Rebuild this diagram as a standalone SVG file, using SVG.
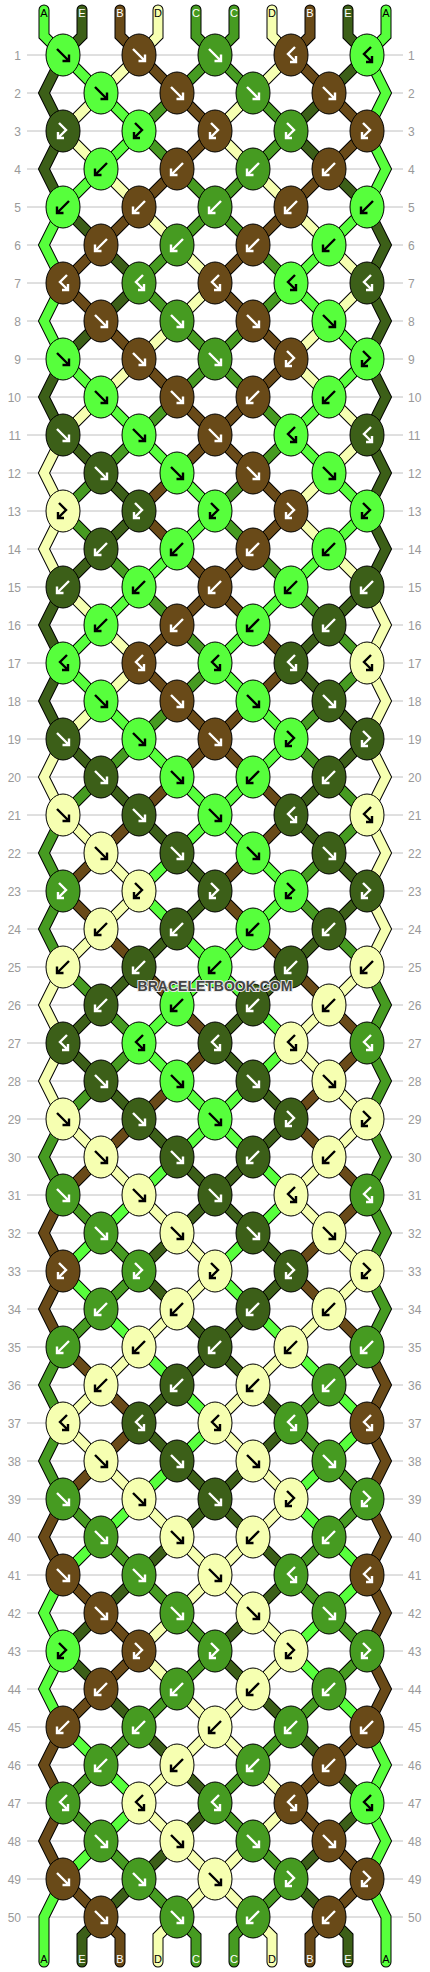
<svg xmlns="http://www.w3.org/2000/svg" xmlns:xlink="http://www.w3.org/1999/xlink" width="430" height="1972" viewBox="0 0 430 1972">
<style>
.L{fill:#57ff3c;color:#000}
.K{fill:#3c5f18;color:#fff}
.B{fill:#694a18;color:#fff}
.Y{fill:#f6ffb1;color:#000}
.M{fill:#469b21;color:#fff}
.o{fill:none;stroke:#000;stroke-width:11;stroke-linejoin:miter;stroke-linecap:round}
.s{fill:none;stroke-width:9;stroke-linejoin:miter;stroke-linecap:round}
.sL{stroke:#57ff3c}.sK{stroke:#3c5f18}.sB{stroke:#694a18}.sY{stroke:#f6ffb1}.sM{stroke:#469b21}
.num{font-family:"Liberation Sans",Arial,sans-serif;font-size:12px;fill:#999}
.lab{font-family:"Liberation Sans",Arial,sans-serif;font-size:11px;text-anchor:middle}
</style>
<defs>
<ellipse id="e" rx="17" ry="21" stroke="#000" stroke-width="1"/>
<g id="f"><use href="#e"/><path d="M-6-6L6 6M-0.5 6H6V-0.5" fill="none" stroke="currentColor" stroke-width="2.4"/></g>
<g id="b"><use href="#e"/><path d="M6-6L-6 6M0.5 6H-6V-0.5" fill="none" stroke="currentColor" stroke-width="2.4"/></g>
<g id="fb"><use href="#e"/><path d="M-4-8L3-1L-5 7M1 7H-5V1" fill="none" stroke="currentColor" stroke-width="2.4"/></g>
<g id="bf"><use href="#e"/><path d="M4-8L-3-1L5 7M-1 7H5V1" fill="none" stroke="currentColor" stroke-width="2.4"/></g>
<polyline id="s0" points="44,10 44,36 63,55 101,93 139,131 101,169 63,207 44,245 63,283 44,321 63,359 101,397 139,435 177,473 215,511 177,549 139,587 101,625 63,663 101,701 139,739 177,777 215,815 253,853 291,891 253,929 215,967 177,1005 139,1043 177,1081 215,1119 253,1157 291,1195 253,1233 215,1271 253,1309 291,1347 329,1385 367,1423 329,1461 291,1499 329,1537 367,1575 329,1613 291,1651 329,1689 367,1727 386,1765 367,1803 386,1841 367,1879 386,1917 386,1962"/>
<polyline id="s1" points="82,10 82,36 63,55 44,93 63,131 44,169 63,207 101,245 139,283 101,321 63,359 44,397 63,435 101,473 139,511 101,549 63,587 44,625 63,663 44,701 63,739 101,777 139,815 177,853 215,891 177,929 139,967 101,1005 63,1043 101,1081 139,1119 177,1157 215,1195 253,1233 291,1271 253,1309 215,1347 177,1385 139,1423 177,1461 215,1499 253,1537 291,1575 253,1613 215,1651 253,1689 291,1727 329,1765 367,1803 329,1841 291,1879 329,1917 348,1936 348,1962"/>
<polyline id="s2" points="120,10 120,36 139,55 177,93 215,131 177,169 139,207 101,245 63,283 101,321 139,359 177,397 215,435 253,473 291,511 253,549 215,587 177,625 139,663 177,701 215,739 253,777 291,815 253,853 215,891 253,929 291,967 329,1005 367,1043 329,1081 291,1119 329,1157 367,1195 329,1233 291,1271 329,1309 367,1347 386,1385 367,1423 386,1461 367,1499 386,1537 367,1575 386,1613 367,1651 386,1689 367,1727 329,1765 291,1803 329,1841 367,1879 329,1917 310,1936 310,1962"/>
<polyline id="s3" points="158,10 158,36 139,55 101,93 63,131 101,169 139,207 177,245 215,283 177,321 139,359 101,397 63,435 44,473 63,511 44,549 63,587 101,625 139,663 101,701 63,739 44,777 63,815 101,853 139,891 101,929 63,967 44,1005 63,1043 44,1081 63,1119 101,1157 139,1195 177,1233 215,1271 177,1309 139,1347 101,1385 63,1423 101,1461 139,1499 177,1537 215,1575 253,1613 291,1651 253,1689 215,1727 177,1765 139,1803 177,1841 215,1879 253,1917 272,1936 272,1962"/>
<polyline id="s4" points="196,10 196,36 215,55 253,93 291,131 253,169 215,207 177,245 139,283 177,321 215,359 253,397 291,435 253,473 215,511 253,549 291,587 329,625 367,663 329,701 291,739 329,777 367,815 329,853 291,891 329,929 367,967 386,1005 367,1043 386,1081 367,1119 386,1157 367,1195 386,1233 367,1271 386,1309 367,1347 329,1385 291,1423 329,1461 367,1499 329,1537 291,1575 329,1613 367,1651 329,1689 291,1727 253,1765 215,1803 253,1841 291,1879 253,1917 234,1936 234,1962"/>
<polyline id="s5" points="234,10 234,36 215,55 177,93 139,131 177,169 215,207 253,245 291,283 253,321 215,359 177,397 139,435 101,473 63,511 101,549 139,587 177,625 215,663 177,701 139,739 101,777 63,815 44,853 63,891 44,929 63,967 101,1005 139,1043 101,1081 63,1119 44,1157 63,1195 101,1233 139,1271 101,1309 63,1347 44,1385 63,1423 44,1461 63,1499 101,1537 139,1575 177,1613 215,1651 177,1689 139,1727 101,1765 63,1803 101,1841 139,1879 177,1917 196,1936 196,1962"/>
<polyline id="s6" points="272,10 272,36 291,55 253,93 215,131 253,169 291,207 329,245 367,283 329,321 291,359 329,397 367,435 329,473 291,511 329,549 367,587 386,625 367,663 386,701 367,739 386,777 367,815 386,853 367,891 386,929 367,967 329,1005 291,1043 329,1081 367,1119 329,1157 291,1195 329,1233 367,1271 329,1309 291,1347 253,1385 215,1423 253,1461 291,1499 253,1537 215,1575 177,1613 139,1651 177,1689 215,1727 253,1765 291,1803 253,1841 215,1879 177,1917 158,1936 158,1962"/>
<polyline id="s7" points="310,10 310,36 291,55 329,93 367,131 329,169 291,207 253,245 215,283 253,321 291,359 253,397 215,435 177,473 139,511 177,549 215,587 253,625 291,663 253,701 215,739 177,777 139,815 101,853 63,891 101,929 139,967 177,1005 215,1043 177,1081 139,1119 101,1157 63,1195 44,1233 63,1271 44,1309 63,1347 101,1385 139,1423 101,1461 63,1499 44,1537 63,1575 101,1613 139,1651 101,1689 63,1727 44,1765 63,1803 44,1841 63,1879 101,1917 120,1936 120,1962"/>
<polyline id="s8" points="348,10 348,36 367,55 329,93 291,131 329,169 367,207 386,245 367,283 386,321 367,359 386,397 367,435 386,473 367,511 386,549 367,587 329,625 291,663 329,701 367,739 329,777 291,815 329,853 367,891 329,929 291,967 253,1005 215,1043 253,1081 291,1119 253,1157 215,1195 177,1233 139,1271 177,1309 215,1347 253,1385 291,1423 253,1461 215,1499 177,1537 139,1575 101,1613 63,1651 101,1689 139,1727 177,1765 215,1803 177,1841 139,1879 101,1917 82,1936 82,1962"/>
<polyline id="s9" points="386,10 386,36 367,55 386,93 367,131 386,169 367,207 329,245 291,283 329,321 367,359 329,397 291,435 329,473 367,511 329,549 291,587 253,625 215,663 253,701 291,739 253,777 215,815 177,853 139,891 177,929 215,967 253,1005 291,1043 253,1081 215,1119 177,1157 139,1195 101,1233 63,1271 101,1309 139,1347 177,1385 215,1423 177,1461 139,1499 101,1537 63,1575 44,1613 63,1651 44,1689 63,1727 101,1765 139,1803 101,1841 63,1879 44,1917 44,1962"/>
</defs>
<rect width="430" height="1972" fill="#fff"/>
<g id="rows">
<path d="M27 55H403M27 93H403M27 131H403M27 169H403M27 207H403M27 245H403M27 283H403M27 321H403M27 359H403M27 397H403M27 435H403M27 473H403M27 511H403M27 549H403M27 587H403M27 625H403M27 663H403M27 701H403M27 739H403M27 777H403M27 815H403M27 853H403M27 891H403M27 929H403M27 967H403M27 1005H403M27 1043H403M27 1081H403M27 1119H403M27 1157H403M27 1195H403M27 1233H403M27 1271H403M27 1309H403M27 1347H403M27 1385H403M27 1423H403M27 1461H403M27 1499H403M27 1537H403M27 1575H403M27 1613H403M27 1651H403M27 1689H403M27 1727H403M27 1765H403M27 1803H403M27 1841H403M27 1879H403M27 1917H403" stroke="#c0c0c0" stroke-width="1" fill="none"/>
<g class="num" text-anchor="end">
<text x="21" y="59.5">1</text><text x="21" y="97.5">2</text><text x="21" y="135.5">3</text><text x="21" y="173.5">4</text><text x="21" y="211.5">5</text><text x="21" y="249.5">6</text><text x="21" y="287.5">7</text><text x="21" y="325.5">8</text><text x="21" y="363.5">9</text><text x="21" y="401.5">10</text>
<text x="21" y="439.5">11</text><text x="21" y="477.5">12</text><text x="21" y="515.5">13</text><text x="21" y="553.5">14</text><text x="21" y="591.5">15</text><text x="21" y="629.5">16</text><text x="21" y="667.5">17</text><text x="21" y="705.5">18</text><text x="21" y="743.5">19</text><text x="21" y="781.5">20</text>
<text x="21" y="819.5">21</text><text x="21" y="857.5">22</text><text x="21" y="895.5">23</text><text x="21" y="933.5">24</text><text x="21" y="971.5">25</text><text x="21" y="1009.5">26</text><text x="21" y="1047.5">27</text><text x="21" y="1085.5">28</text><text x="21" y="1123.5">29</text><text x="21" y="1161.5">30</text>
<text x="21" y="1199.5">31</text><text x="21" y="1237.5">32</text><text x="21" y="1275.5">33</text><text x="21" y="1313.5">34</text><text x="21" y="1351.5">35</text><text x="21" y="1389.5">36</text><text x="21" y="1427.5">37</text><text x="21" y="1465.5">38</text><text x="21" y="1503.5">39</text><text x="21" y="1541.5">40</text>
<text x="21" y="1579.5">41</text><text x="21" y="1617.5">42</text><text x="21" y="1655.5">43</text><text x="21" y="1693.5">44</text><text x="21" y="1731.5">45</text><text x="21" y="1769.5">46</text><text x="21" y="1807.5">47</text><text x="21" y="1845.5">48</text><text x="21" y="1883.5">49</text><text x="21" y="1921.5">50</text>
</g>
<g class="num" text-anchor="start">
<text x="408" y="59.5">1</text><text x="408" y="97.5">2</text><text x="408" y="135.5">3</text><text x="408" y="173.5">4</text><text x="408" y="211.5">5</text><text x="408" y="249.5">6</text><text x="408" y="287.5">7</text><text x="408" y="325.5">8</text><text x="408" y="363.5">9</text><text x="408" y="401.5">10</text>
<text x="408" y="439.5">11</text><text x="408" y="477.5">12</text><text x="408" y="515.5">13</text><text x="408" y="553.5">14</text><text x="408" y="591.5">15</text><text x="408" y="629.5">16</text><text x="408" y="667.5">17</text><text x="408" y="705.5">18</text><text x="408" y="743.5">19</text><text x="408" y="781.5">20</text>
<text x="408" y="819.5">21</text><text x="408" y="857.5">22</text><text x="408" y="895.5">23</text><text x="408" y="933.5">24</text><text x="408" y="971.5">25</text><text x="408" y="1009.5">26</text><text x="408" y="1047.5">27</text><text x="408" y="1085.5">28</text><text x="408" y="1123.5">29</text><text x="408" y="1161.5">30</text>
<text x="408" y="1199.5">31</text><text x="408" y="1237.5">32</text><text x="408" y="1275.5">33</text><text x="408" y="1313.5">34</text><text x="408" y="1351.5">35</text><text x="408" y="1389.5">36</text><text x="408" y="1427.5">37</text><text x="408" y="1465.5">38</text><text x="408" y="1503.5">39</text><text x="408" y="1541.5">40</text>
<text x="408" y="1579.5">41</text><text x="408" y="1617.5">42</text><text x="408" y="1655.5">43</text><text x="408" y="1693.5">44</text><text x="408" y="1731.5">45</text><text x="408" y="1769.5">46</text><text x="408" y="1807.5">47</text><text x="408" y="1845.5">48</text><text x="408" y="1883.5">49</text><text x="408" y="1921.5">50</text>
</g>
</g>
<g id="connectors">
<use href="#s0" class="o"/><use href="#s1" class="o"/><use href="#s2" class="o"/><use href="#s3" class="o"/><use href="#s4" class="o"/><use href="#s5" class="o"/><use href="#s6" class="o"/><use href="#s7" class="o"/><use href="#s8" class="o"/><use href="#s9" class="o"/>
<use href="#s0" class="s sL"/><use href="#s1" class="s sK"/><use href="#s2" class="s sB"/><use href="#s3" class="s sY"/><use href="#s4" class="s sM"/><use href="#s5" class="s sM"/><use href="#s6" class="s sY"/><use href="#s7" class="s sB"/><use href="#s8" class="s sK"/><use href="#s9" class="s sL"/>
</g>
<g id="labels">
<text class="lab" x="44" y="17" fill="#000">A</text><text class="lab" x="82" y="17" fill="#fff">E</text><text class="lab" x="120" y="17" fill="#fff">B</text><text class="lab" x="158" y="17" fill="#000">D</text><text class="lab" x="196" y="17" fill="#fff">C</text><text class="lab" x="234" y="17" fill="#fff">C</text><text class="lab" x="272" y="17" fill="#000">D</text><text class="lab" x="310" y="17" fill="#fff">B</text><text class="lab" x="348" y="17" fill="#fff">E</text><text class="lab" x="386" y="17" fill="#000">A</text>
<text class="lab" x="44" y="1963" fill="#000">A</text><text class="lab" x="82" y="1963" fill="#fff">E</text><text class="lab" x="120" y="1963" fill="#fff">B</text><text class="lab" x="158" y="1963" fill="#000">D</text><text class="lab" x="196" y="1963" fill="#fff">C</text><text class="lab" x="234" y="1963" fill="#fff">C</text><text class="lab" x="272" y="1963" fill="#000">D</text><text class="lab" x="310" y="1963" fill="#fff">B</text><text class="lab" x="348" y="1963" fill="#fff">E</text><text class="lab" x="386" y="1963" fill="#000">A</text>
</g>
<g id="knots">
<g id="k1-1" class="L"><use href="#f" x="63" y="55"/></g><g id="k1-2" class="B"><use href="#f" x="139" y="55"/></g><g id="k1-3" class="M"><use href="#f" x="215" y="55"/></g><g id="k1-4" class="B"><use href="#bf" x="291" y="55"/></g><g id="k1-5" class="L"><use href="#bf" x="367" y="55"/></g>
<g id="k2-1" class="L"><use href="#f" x="101" y="93"/></g><g id="k2-2" class="B"><use href="#f" x="177" y="93"/></g><g id="k2-3" class="M"><use href="#f" x="253" y="93"/></g><g id="k2-4" class="B"><use href="#f" x="329" y="93"/></g>
<g id="k3-1" class="K"><use href="#fb" x="63" y="131"/></g><g id="k3-2" class="L"><use href="#fb" x="139" y="131"/></g><g id="k3-3" class="B"><use href="#fb" x="215" y="131"/></g><g id="k3-4" class="M"><use href="#fb" x="291" y="131"/></g><g id="k3-5" class="B"><use href="#fb" x="367" y="131"/></g>
<g id="k4-1" class="L"><use href="#b" x="101" y="169"/></g><g id="k4-2" class="B"><use href="#b" x="177" y="169"/></g><g id="k4-3" class="M"><use href="#b" x="253" y="169"/></g><g id="k4-4" class="B"><use href="#b" x="329" y="169"/></g>
<g id="k5-1" class="L"><use href="#b" x="63" y="207"/></g><g id="k5-2" class="B"><use href="#b" x="139" y="207"/></g><g id="k5-3" class="M"><use href="#b" x="215" y="207"/></g><g id="k5-4" class="B"><use href="#b" x="291" y="207"/></g><g id="k5-5" class="L"><use href="#b" x="367" y="207"/></g>
<g id="k6-1" class="B"><use href="#b" x="101" y="245"/></g><g id="k6-2" class="M"><use href="#b" x="177" y="245"/></g><g id="k6-3" class="B"><use href="#b" x="253" y="245"/></g><g id="k6-4" class="L"><use href="#b" x="329" y="245"/></g>
<g id="k7-1" class="B"><use href="#bf" x="63" y="283"/></g><g id="k7-2" class="M"><use href="#bf" x="139" y="283"/></g><g id="k7-3" class="B"><use href="#bf" x="215" y="283"/></g><g id="k7-4" class="L"><use href="#bf" x="291" y="283"/></g><g id="k7-5" class="K"><use href="#bf" x="367" y="283"/></g>
<g id="k8-1" class="B"><use href="#f" x="101" y="321"/></g><g id="k8-2" class="M"><use href="#f" x="177" y="321"/></g><g id="k8-3" class="B"><use href="#f" x="253" y="321"/></g><g id="k8-4" class="L"><use href="#f" x="329" y="321"/></g>
<g id="k9-1" class="L"><use href="#f" x="63" y="359"/></g><g id="k9-2" class="B"><use href="#f" x="139" y="359"/></g><g id="k9-3" class="M"><use href="#f" x="215" y="359"/></g><g id="k9-4" class="B"><use href="#fb" x="291" y="359"/></g><g id="k9-5" class="L"><use href="#fb" x="367" y="359"/></g>
<g id="k10-1" class="L"><use href="#f" x="101" y="397"/></g><g id="k10-2" class="B"><use href="#f" x="177" y="397"/></g><g id="k10-3" class="B"><use href="#b" x="253" y="397"/></g><g id="k10-4" class="L"><use href="#b" x="329" y="397"/></g>
<g id="k11-1" class="K"><use href="#f" x="63" y="435"/></g><g id="k11-2" class="L"><use href="#f" x="139" y="435"/></g><g id="k11-3" class="B"><use href="#f" x="215" y="435"/></g><g id="k11-4" class="L"><use href="#bf" x="291" y="435"/></g><g id="k11-5" class="K"><use href="#bf" x="367" y="435"/></g>
<g id="k12-1" class="K"><use href="#f" x="101" y="473"/></g><g id="k12-2" class="L"><use href="#f" x="177" y="473"/></g><g id="k12-3" class="B"><use href="#f" x="253" y="473"/></g><g id="k12-4" class="L"><use href="#f" x="329" y="473"/></g>
<g id="k13-1" class="Y"><use href="#fb" x="63" y="511"/></g><g id="k13-2" class="K"><use href="#fb" x="139" y="511"/></g><g id="k13-3" class="L"><use href="#fb" x="215" y="511"/></g><g id="k13-4" class="B"><use href="#fb" x="291" y="511"/></g><g id="k13-5" class="L"><use href="#fb" x="367" y="511"/></g>
<g id="k14-1" class="K"><use href="#b" x="101" y="549"/></g><g id="k14-2" class="L"><use href="#b" x="177" y="549"/></g><g id="k14-3" class="B"><use href="#b" x="253" y="549"/></g><g id="k14-4" class="L"><use href="#b" x="329" y="549"/></g>
<g id="k15-1" class="K"><use href="#b" x="63" y="587"/></g><g id="k15-2" class="L"><use href="#b" x="139" y="587"/></g><g id="k15-3" class="B"><use href="#b" x="215" y="587"/></g><g id="k15-4" class="L"><use href="#b" x="291" y="587"/></g><g id="k15-5" class="K"><use href="#b" x="367" y="587"/></g>
<g id="k16-1" class="L"><use href="#b" x="101" y="625"/></g><g id="k16-2" class="B"><use href="#b" x="177" y="625"/></g><g id="k16-3" class="L"><use href="#b" x="253" y="625"/></g><g id="k16-4" class="K"><use href="#b" x="329" y="625"/></g>
<g id="k17-1" class="L"><use href="#bf" x="63" y="663"/></g><g id="k17-2" class="B"><use href="#bf" x="139" y="663"/></g><g id="k17-3" class="L"><use href="#bf" x="215" y="663"/></g><g id="k17-4" class="K"><use href="#bf" x="291" y="663"/></g><g id="k17-5" class="Y"><use href="#bf" x="367" y="663"/></g>
<g id="k18-1" class="L"><use href="#f" x="101" y="701"/></g><g id="k18-2" class="B"><use href="#f" x="177" y="701"/></g><g id="k18-3" class="L"><use href="#f" x="253" y="701"/></g><g id="k18-4" class="K"><use href="#f" x="329" y="701"/></g>
<g id="k19-1" class="K"><use href="#f" x="63" y="739"/></g><g id="k19-2" class="L"><use href="#f" x="139" y="739"/></g><g id="k19-3" class="B"><use href="#f" x="215" y="739"/></g><g id="k19-4" class="L"><use href="#fb" x="291" y="739"/></g><g id="k19-5" class="K"><use href="#fb" x="367" y="739"/></g>
<g id="k20-1" class="K"><use href="#f" x="101" y="777"/></g><g id="k20-2" class="L"><use href="#f" x="177" y="777"/></g><g id="k20-3" class="L"><use href="#b" x="253" y="777"/></g><g id="k20-4" class="K"><use href="#b" x="329" y="777"/></g>
<g id="k21-1" class="Y"><use href="#f" x="63" y="815"/></g><g id="k21-2" class="K"><use href="#f" x="139" y="815"/></g><g id="k21-3" class="L"><use href="#f" x="215" y="815"/></g><g id="k21-4" class="K"><use href="#bf" x="291" y="815"/></g><g id="k21-5" class="Y"><use href="#bf" x="367" y="815"/></g>
<g id="k22-1" class="Y"><use href="#f" x="101" y="853"/></g><g id="k22-2" class="K"><use href="#f" x="177" y="853"/></g><g id="k22-3" class="L"><use href="#f" x="253" y="853"/></g><g id="k22-4" class="K"><use href="#f" x="329" y="853"/></g>
<g id="k23-1" class="M"><use href="#fb" x="63" y="891"/></g><g id="k23-2" class="Y"><use href="#fb" x="139" y="891"/></g><g id="k23-3" class="K"><use href="#fb" x="215" y="891"/></g><g id="k23-4" class="L"><use href="#fb" x="291" y="891"/></g><g id="k23-5" class="K"><use href="#fb" x="367" y="891"/></g>
<g id="k24-1" class="Y"><use href="#b" x="101" y="929"/></g><g id="k24-2" class="K"><use href="#b" x="177" y="929"/></g><g id="k24-3" class="L"><use href="#b" x="253" y="929"/></g><g id="k24-4" class="K"><use href="#b" x="329" y="929"/></g>
<g id="k25-1" class="Y"><use href="#b" x="63" y="967"/></g><g id="k25-2" class="K"><use href="#b" x="139" y="967"/></g><g id="k25-3" class="L"><use href="#b" x="215" y="967"/></g><g id="k25-4" class="K"><use href="#b" x="291" y="967"/></g><g id="k25-5" class="Y"><use href="#b" x="367" y="967"/></g>
<g id="k26-1" class="K"><use href="#b" x="101" y="1005"/></g><g id="k26-2" class="L"><use href="#b" x="177" y="1005"/></g><g id="k26-3" class="K"><use href="#b" x="253" y="1005"/></g><g id="k26-4" class="Y"><use href="#b" x="329" y="1005"/></g>
<g id="k27-1" class="K"><use href="#bf" x="63" y="1043"/></g><g id="k27-2" class="L"><use href="#bf" x="139" y="1043"/></g><g id="k27-3" class="K"><use href="#bf" x="215" y="1043"/></g><g id="k27-4" class="Y"><use href="#bf" x="291" y="1043"/></g><g id="k27-5" class="M"><use href="#bf" x="367" y="1043"/></g>
<g id="k28-1" class="K"><use href="#f" x="101" y="1081"/></g><g id="k28-2" class="L"><use href="#f" x="177" y="1081"/></g><g id="k28-3" class="K"><use href="#f" x="253" y="1081"/></g><g id="k28-4" class="Y"><use href="#f" x="329" y="1081"/></g>
<g id="k29-1" class="Y"><use href="#f" x="63" y="1119"/></g><g id="k29-2" class="K"><use href="#f" x="139" y="1119"/></g><g id="k29-3" class="L"><use href="#f" x="215" y="1119"/></g><g id="k29-4" class="K"><use href="#fb" x="291" y="1119"/></g><g id="k29-5" class="Y"><use href="#fb" x="367" y="1119"/></g>
<g id="k30-1" class="Y"><use href="#f" x="101" y="1157"/></g><g id="k30-2" class="K"><use href="#f" x="177" y="1157"/></g><g id="k30-3" class="K"><use href="#b" x="253" y="1157"/></g><g id="k30-4" class="Y"><use href="#b" x="329" y="1157"/></g>
<g id="k31-1" class="M"><use href="#f" x="63" y="1195"/></g><g id="k31-2" class="Y"><use href="#f" x="139" y="1195"/></g><g id="k31-3" class="K"><use href="#f" x="215" y="1195"/></g><g id="k31-4" class="Y"><use href="#bf" x="291" y="1195"/></g><g id="k31-5" class="M"><use href="#bf" x="367" y="1195"/></g>
<g id="k32-1" class="M"><use href="#f" x="101" y="1233"/></g><g id="k32-2" class="Y"><use href="#f" x="177" y="1233"/></g><g id="k32-3" class="K"><use href="#f" x="253" y="1233"/></g><g id="k32-4" class="Y"><use href="#f" x="329" y="1233"/></g>
<g id="k33-1" class="B"><use href="#fb" x="63" y="1271"/></g><g id="k33-2" class="M"><use href="#fb" x="139" y="1271"/></g><g id="k33-3" class="Y"><use href="#fb" x="215" y="1271"/></g><g id="k33-4" class="K"><use href="#fb" x="291" y="1271"/></g><g id="k33-5" class="Y"><use href="#fb" x="367" y="1271"/></g>
<g id="k34-1" class="M"><use href="#b" x="101" y="1309"/></g><g id="k34-2" class="Y"><use href="#b" x="177" y="1309"/></g><g id="k34-3" class="K"><use href="#b" x="253" y="1309"/></g><g id="k34-4" class="Y"><use href="#b" x="329" y="1309"/></g>
<g id="k35-1" class="M"><use href="#b" x="63" y="1347"/></g><g id="k35-2" class="Y"><use href="#b" x="139" y="1347"/></g><g id="k35-3" class="K"><use href="#b" x="215" y="1347"/></g><g id="k35-4" class="Y"><use href="#b" x="291" y="1347"/></g><g id="k35-5" class="M"><use href="#b" x="367" y="1347"/></g>
<g id="k36-1" class="Y"><use href="#b" x="101" y="1385"/></g><g id="k36-2" class="K"><use href="#b" x="177" y="1385"/></g><g id="k36-3" class="Y"><use href="#b" x="253" y="1385"/></g><g id="k36-4" class="M"><use href="#b" x="329" y="1385"/></g>
<g id="k37-1" class="Y"><use href="#bf" x="63" y="1423"/></g><g id="k37-2" class="K"><use href="#bf" x="139" y="1423"/></g><g id="k37-3" class="Y"><use href="#bf" x="215" y="1423"/></g><g id="k37-4" class="M"><use href="#bf" x="291" y="1423"/></g><g id="k37-5" class="B"><use href="#bf" x="367" y="1423"/></g>
<g id="k38-1" class="Y"><use href="#f" x="101" y="1461"/></g><g id="k38-2" class="K"><use href="#f" x="177" y="1461"/></g><g id="k38-3" class="Y"><use href="#f" x="253" y="1461"/></g><g id="k38-4" class="M"><use href="#f" x="329" y="1461"/></g>
<g id="k39-1" class="M"><use href="#f" x="63" y="1499"/></g><g id="k39-2" class="Y"><use href="#f" x="139" y="1499"/></g><g id="k39-3" class="K"><use href="#f" x="215" y="1499"/></g><g id="k39-4" class="Y"><use href="#fb" x="291" y="1499"/></g><g id="k39-5" class="M"><use href="#fb" x="367" y="1499"/></g>
<g id="k40-1" class="M"><use href="#f" x="101" y="1537"/></g><g id="k40-2" class="Y"><use href="#f" x="177" y="1537"/></g><g id="k40-3" class="Y"><use href="#b" x="253" y="1537"/></g><g id="k40-4" class="M"><use href="#b" x="329" y="1537"/></g>
<g id="k41-1" class="B"><use href="#f" x="63" y="1575"/></g><g id="k41-2" class="M"><use href="#f" x="139" y="1575"/></g><g id="k41-3" class="Y"><use href="#f" x="215" y="1575"/></g><g id="k41-4" class="M"><use href="#bf" x="291" y="1575"/></g><g id="k41-5" class="B"><use href="#bf" x="367" y="1575"/></g>
<g id="k42-1" class="B"><use href="#f" x="101" y="1613"/></g><g id="k42-2" class="M"><use href="#f" x="177" y="1613"/></g><g id="k42-3" class="Y"><use href="#f" x="253" y="1613"/></g><g id="k42-4" class="M"><use href="#f" x="329" y="1613"/></g>
<g id="k43-1" class="L"><use href="#fb" x="63" y="1651"/></g><g id="k43-2" class="B"><use href="#fb" x="139" y="1651"/></g><g id="k43-3" class="M"><use href="#fb" x="215" y="1651"/></g><g id="k43-4" class="Y"><use href="#fb" x="291" y="1651"/></g><g id="k43-5" class="M"><use href="#fb" x="367" y="1651"/></g>
<g id="k44-1" class="B"><use href="#b" x="101" y="1689"/></g><g id="k44-2" class="M"><use href="#b" x="177" y="1689"/></g><g id="k44-3" class="Y"><use href="#b" x="253" y="1689"/></g><g id="k44-4" class="M"><use href="#b" x="329" y="1689"/></g>
<g id="k45-1" class="B"><use href="#b" x="63" y="1727"/></g><g id="k45-2" class="M"><use href="#b" x="139" y="1727"/></g><g id="k45-3" class="Y"><use href="#b" x="215" y="1727"/></g><g id="k45-4" class="M"><use href="#b" x="291" y="1727"/></g><g id="k45-5" class="B"><use href="#b" x="367" y="1727"/></g>
<g id="k46-1" class="M"><use href="#b" x="101" y="1765"/></g><g id="k46-2" class="Y"><use href="#b" x="177" y="1765"/></g><g id="k46-3" class="M"><use href="#b" x="253" y="1765"/></g><g id="k46-4" class="B"><use href="#b" x="329" y="1765"/></g>
<g id="k47-1" class="M"><use href="#bf" x="63" y="1803"/></g><g id="k47-2" class="Y"><use href="#bf" x="139" y="1803"/></g><g id="k47-3" class="M"><use href="#bf" x="215" y="1803"/></g><g id="k47-4" class="B"><use href="#bf" x="291" y="1803"/></g><g id="k47-5" class="L"><use href="#bf" x="367" y="1803"/></g>
<g id="k48-1" class="M"><use href="#f" x="101" y="1841"/></g><g id="k48-2" class="Y"><use href="#f" x="177" y="1841"/></g><g id="k48-3" class="M"><use href="#f" x="253" y="1841"/></g><g id="k48-4" class="B"><use href="#f" x="329" y="1841"/></g>
<g id="k49-1" class="B"><use href="#f" x="63" y="1879"/></g><g id="k49-2" class="M"><use href="#f" x="139" y="1879"/></g><g id="k49-3" class="Y"><use href="#f" x="215" y="1879"/></g><g id="k49-4" class="M"><use href="#fb" x="291" y="1879"/></g><g id="k49-5" class="B"><use href="#fb" x="367" y="1879"/></g>
<g id="k50-1" class="B"><use href="#f" x="101" y="1917"/></g><g id="k50-2" class="M"><use href="#f" x="177" y="1917"/></g><g id="k50-3" class="M"><use href="#b" x="253" y="1917"/></g><g id="k50-4" class="B"><use href="#b" x="329" y="1917"/></g>
</g>
<text id="watermark" x="215" y="990.5" text-anchor="middle" font-family="'Liberation Sans',Arial,sans-serif" font-weight="bold" font-size="14" fill="#444" stroke="#e8e8e8" stroke-width="2" paint-order="stroke">BRACELETBOOK.COM</text>
</svg>
